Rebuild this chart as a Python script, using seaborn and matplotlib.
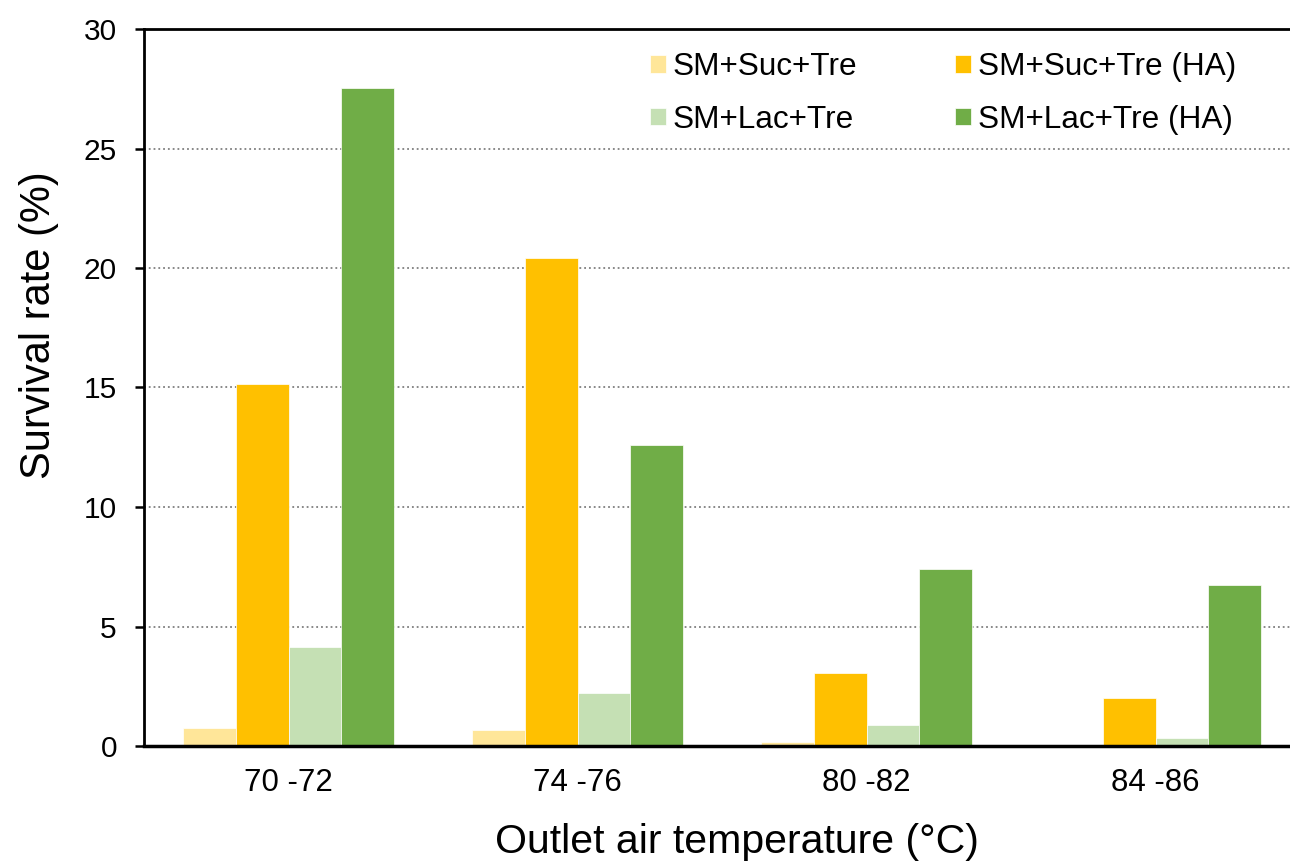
import pandas as pd
import matplotlib
matplotlib.use("Agg")
import matplotlib.pyplot as plt
import seaborn as sns

# values
temps = ["70 -72", "74 -76", "80 -82", "84 -86"]
series = ["SM+Suc+Tre", "SM+Suc+Tre (HA)", "SM+Lac+Tre", "SM+Lac+Tre (HA)"]
suc = [0.77, 0.67, 0.17, 0.0]
suc_ha = [15.15, 20.42, 3.07, 2.01]
lac = [4.16, 2.21, 0.88, 0.32]
lac_ha = [27.55, 12.61, 7.42, 6.75]
colors = ["#FFE699", "#FFC000", "#C5E0B4", "#70AD47"]

df = pd.DataFrame({
    "temp": temps * 4,
    "group": [s for s in series for _ in temps],
    "rate": suc + suc_ha + lac + lac_ha,
})

sns.set_style("white")
plt.rcParams["font.family"] = ["Liberation Sans", "DejaVu Sans"]
plt.rcParams["text.color"] = "black"
plt.rcParams["axes.labelcolor"] = "black"
plt.rcParams["xtick.color"] = "black"
plt.rcParams["ytick.color"] = "black"

fig = plt.figure(figsize=(12.9, 8.66), dpi=100)
ax = fig.add_axes([144 / 1290, 1 - 746 / 866, 1156 / 1290, 717 / 866])

sns.barplot(data=df, x="temp", y="rate", hue="group", order=temps,
            hue_order=series, palette=colors, width=0.727, gap=0,
            edgecolor="white", linewidth=0.5, saturation=1, ax=ax)

ax.set_xlim(-0.5, 3.5)
ax.set_ylim(0, 30)
ax.set_yticks(range(0, 31, 5))
ax.set_axisbelow(True)
ax.yaxis.grid(True, linestyle=":", color="#7f7f7f", linewidth=1.3)
ax.xaxis.grid(False)

for side in ["left", "top", "bottom"]:
    ax.spines[side].set_visible(True)
    ax.spines[side].set_color("black")
ax.spines["left"].set_linewidth(2)
ax.spines["top"].set_linewidth(2)
ax.spines["bottom"].set_linewidth(2.5)
ax.spines["right"].set_visible(False)

ax.tick_params(axis="y", direction="out", length=6.5, width=1.8,
               pad=13, labelsize=21.5, left=True, color="black")
ax.tick_params(axis="x", length=0, pad=16, labelsize=22.5)

ax.set_xlabel("Outlet air temperature (°C)", fontsize=29.5)
ax.set_ylabel("Survival rate (%)", fontsize=30)
ax.xaxis.set_label_coords(0.513, -0.108)
ax.yaxis.set_label_coords(-0.0735, 0.587)

handles, labels = ax.get_legend_handles_labels()
ax.get_legend().remove()
order = [0, 2, 1, 3]
fig.legend([handles[i] for i in order], [labels[i] for i in order],
           loc="upper left", bbox_to_anchor=(650 / 1290, 1 - 52 / 866),
           ncol=2, frameon=False, fontsize=22.7, borderpad=0,
           handlelength=0.5, handleheight=0.5, handletextpad=0.23,
           columnspacing=3.1, labelspacing=0.72, borderaxespad=0)

fig.savefig("out.png", dpi=100)
